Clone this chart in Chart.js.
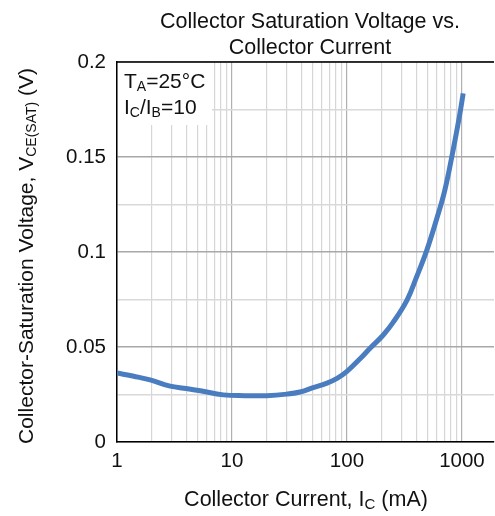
<!DOCTYPE html>
<html><head><meta charset="utf-8">
<script src="https://cdn.jsdelivr.net/npm/chart.js@4"></script>
<style>html,body{margin:0;padding:0;background:#fff}#wrap{width:495px;height:516px}</style>
</head><body><div id="wrap"><canvas id="c"></canvas></div>
<script>
const currentMA = [1, 1.4, 1.94, 2.9, 4, 5.3, 8.4, 13, 20, 30, 39, 50, 67, 82, 100, 130, 158, 206, 251, 333, 404, 495, 600, 710, 840, 948, 1025];
const vceSat    = [0.0363, 0.0346, 0.0327, 0.0294, 0.0282, 0.027, 0.0248, 0.0244, 0.0244, 0.0252, 0.0263, 0.0285, 0.031, 0.0335, 0.0372, 0.0438, 0.0492, 0.0562, 0.0628, 0.0747, 0.087, 0.101, 0.117, 0.1326, 0.154, 0.171, 0.1835];
const xTickLabels = [1, 10, 100, 1000];
const yTickLabels = [0, 0.05, 0.1, 0.15, 0.2];
const titleLines = ['Collector Saturation Voltage vs.', 'Collector Current'];

const FONT = '"Liberation Sans", Arial, sans-serif';
function runs(ctx, parts, x, y, size, align) {
  const main = size + 'px ' + FONT, sub = Math.round(size * 0.68) + 'px ' + FONT;
  let w = 0;
  parts.forEach(p => { ctx.font = p[1] ? sub : main; w += ctx.measureText(p[0]).width; });
  let cx = align === 'center' ? x - w / 2 : x;
  ctx.textAlign = 'left'; ctx.textBaseline = 'alphabetic';
  parts.forEach(p => {
    ctx.font = p[1] ? sub : main;
    ctx.fillText(p[0], cx, p[1] ? y + size * 0.16 : y);
    cx += ctx.measureText(p[0]).width;
  });
}
const deco = {
  id: 'deco',
  afterDraw(chart) {
    const ctx = chart.ctx, a = chart.chartArea;
    ctx.save();
    ctx.strokeStyle = '#000'; ctx.lineWidth = 1.5;
    ctx.beginPath(); ctx.moveTo(a.left, a.top); ctx.lineTo(a.right, a.top); ctx.stroke();
    ctx.fillStyle = '#fff';
    ctx.fillRect(a.left + 1, a.top + 1, 94, 62);
    ctx.fillStyle = '#111';
    runs(ctx, [['T', 0], ['A', 1], ['=25°C', 0]], a.left + 7, 88, 21, 'left');
    runs(ctx, [['I', 0], ['C', 1], ['/I', 0], ['B', 1], ['=10', 0]], a.left + 7, 114, 21, 'left');
    runs(ctx, [[titleLines[0], 0]], 310, 28, 21.5, 'center');
    runs(ctx, [[titleLines[1], 0]], 310, 54, 21.5, 'center');
    runs(ctx, [['Collector Current, I', 0], ['C', 1], [' (mA)', 0]], 306, 506, 21.5, 'center');
    ctx.translate(33, 256);
    ctx.rotate(-Math.PI / 2);
    runs(ctx, [['Collector-Saturation Voltage, V', 0], ['CE(SAT)', 1], [' (V)', 0]], 0, 0, 21, 'center');
    ctx.restore();
  }
};
const xMinor = [];
for (let d = 1; d <= 100; d *= 10) for (let k = 1; k <= 9; k++) xMinor.push(k * d);
xMinor.push(1000);

new Chart(document.getElementById('c'), {
  type: 'line',
  data: { datasets: [{ data: currentMA.map((x, i) => ({ x, y: vceSat[i] })), borderColor: '#4a7dc0', borderWidth: 5, pointRadius: 0, tension: 0.4, fill: false }] },
  options: {
    responsive: true, maintainAspectRatio: false, animation: false,
    layout: { padding: { top: 62, right: 1, left: 0, bottom: 0 } },
    plugins: { legend: { display: false }, tooltip: { enabled: false } },
    scales: {
      x: {
        type: 'logarithmic', min: 1, max: 1900,
        afterBuildTicks(s) { s.ticks = xMinor.map(v => ({ value: v })); },
        afterFit(s) { s.height = 74; },
        ticks: { autoSkip: false, maxRotation: 0, padding: 7, color: '#111', font: { size: 20.5, family: FONT },
          callback: v => xTickLabels.includes(v) ? String(v) : '' },
        grid: { drawTicks: false, lineWidth: 1.2, color: c => (c.tick && xTickLabels.includes(c.tick.value)) ? '#b0b0b0' : '#d6d6d6' },
        border: { color: '#000', width: 1.5 }
      },
      y: {
        min: 0, max: 0.2,
        afterBuildTicks(s) { const t = []; for (let i = 0; i <= 8; i++) t.push({ value: +(i * 0.025).toFixed(3) }); s.ticks = t; },
        afterFit(s) { s.width = 117; },
        ticks: { autoSkip: false, padding: 11, color: '#111', font: { size: 20.5, family: FONT },
          callback: v => yTickLabels.some(t => Math.abs(t - v) < 1e-9) ? String(+v.toFixed(2)) : '' },
        grid: { drawTicks: false, lineWidth: 1.5, color: c => (c.tick && yTickLabels.some(t => Math.abs(t - c.tick.value) < 1e-9)) ? '#a8a8a8' : '#d9d9d9' },
        border: { color: '#000', width: 1.5 }
      }
    }
  },
  plugins: [deco]
});
</script></body></html>
